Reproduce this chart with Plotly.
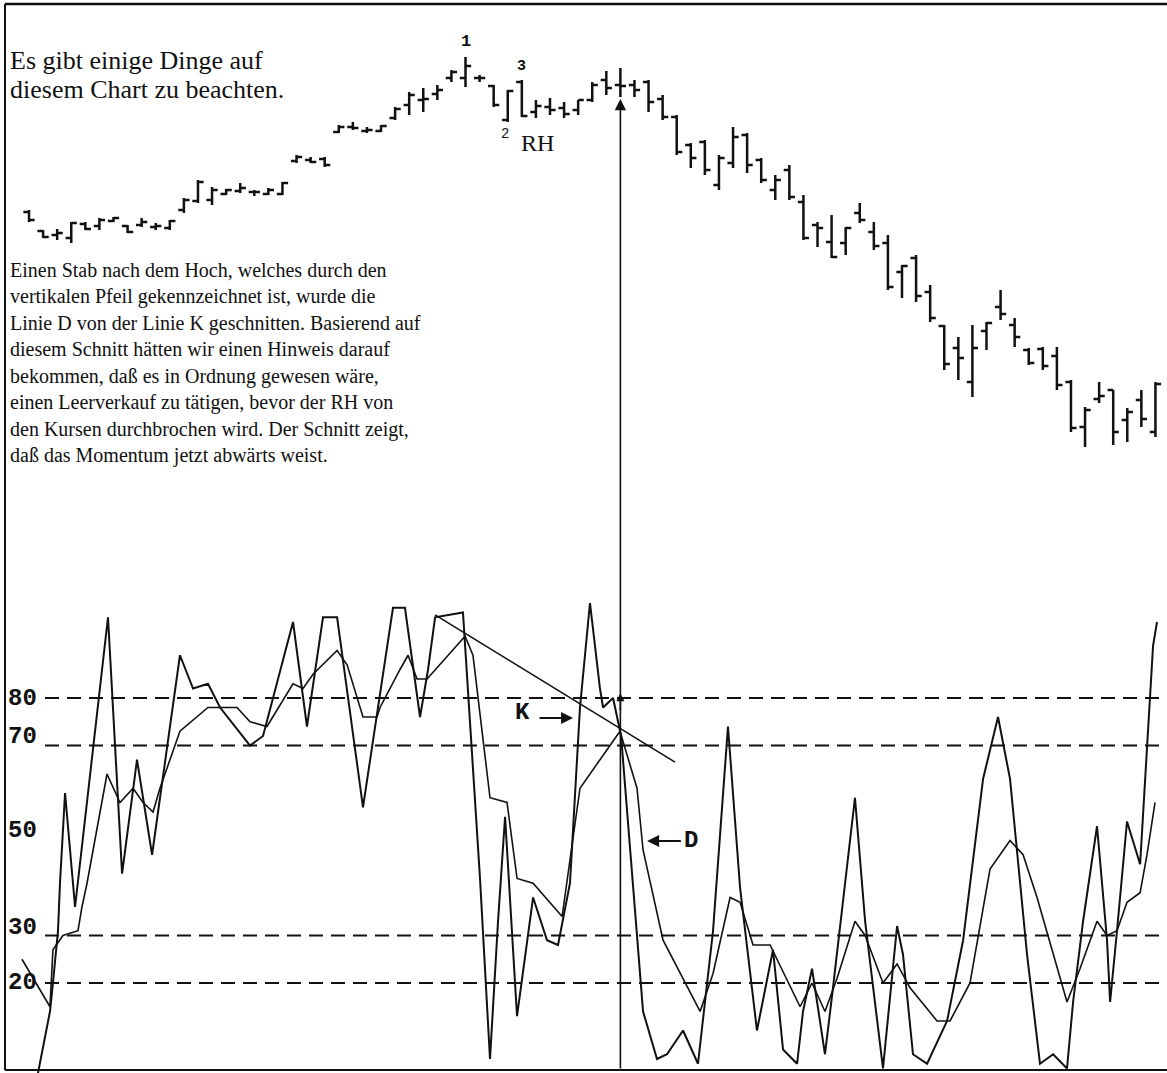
import plotly.graph_objects as go

# ---------------- data ----------------
bar_index = list(range(81))
bar_high = [290, 270, 271, 278, 278, 282, 283, 275, 282, 277, 280, 302, 320, 313, 311, 317, 310, 312, 318, 345,
            343, 343, 375, 378, 373, 375, 393, 408, 412, 415, 430, 443, 425, 415, 410, 420, 400, 402, 398, 400,
            418, 429, 432, 420, 420, 405, 385, 357, 360, 345, 373, 367, 342, 325, 335, 305, 278, 285, 273, 297,
            278, 265, 235, 245, 215, 175, 163, 175, 178, 210, 182, 152, 153, 153, 120, 93, 118, 110, 92, 110, 118]
bar_low = [278, 262, 260, 257, 270, 270, 278, 267, 273, 270, 270, 287, 297, 295, 305, 307, 304, 305, 305, 337,
           337, 333, 367, 370, 367, 368, 380, 385, 388, 400, 418, 413, 418, 393, 378, 383, 382, 385, 382, 385,
           398, 405, 403, 403, 388, 380, 345, 332, 325, 310, 332, 327, 317, 300, 300, 260, 253, 242, 245, 277,
           250, 210, 202, 198, 178, 130, 120, 103, 150, 180, 153, 135, 130, 110, 68, 53, 97, 55, 58, 73, 63]
bar_open = [288, 269, 265, 262, 276, 274, 279, 274, 275, 273, 272, 290, 299, 300, 306, 309, 308, 306, 306, 339,
            340, 341, 368, 373, 369, 369, 382, 395, 400, 406, 422, 422, 422, 414, 380, 418, 388, 393, 392, 390,
            400, 420, 415, 415, 418, 401, 383, 355, 358, 315, 337, 365, 340, 310, 330, 298, 275, 258, 257, 287,
            268, 257, 228, 242, 208, 174, 152, 118, 169, 193, 175, 150, 151, 144, 118, 73, 101, 110, 80, 100, 68]
bar_close = [280, 263, 267, 277, 271, 280, 282, 268, 278, 274, 279, 300, 318, 310, 310, 312, 308, 310, 317, 343,
             338, 335, 373, 372, 370, 374, 391, 405, 401, 410, 428, 434, 422, 395, 409, 384, 394, 390, 386, 400,
             415, 412, 414, 410, 398, 383, 348, 342, 330, 342, 363, 335, 320, 320, 303, 262, 272, 243, 272, 280,
             254, 213, 234, 204, 182, 136, 142, 152, 177, 186, 163, 137, 134, 115, 72, 90, 104, 68, 88, 81, 116]

# stochastic %K (fast line): bar position, value
k_day = [0.57, 1.49, 1.70, 2.06, 2.20, 2.56, 3.27, 5.61, 6.61, 7.67, 8.74, 10.72, 11.65, 12.71, 13.57, 15.70,
         16.62, 18.75, 19.74, 20.88, 21.88, 23.72, 25.85, 26.70, 27.77, 28.34, 28.84, 30.82, 32.03, 32.74,
         33.31, 33.81, 34.66, 35.80, 36.79, 37.57, 38.42, 39.13, 39.84, 40.55, 40.77, 41.48, 42.05, 42.69,
         43.61, 44.60, 45.31, 46.45, 47.51, 48.58, 49.64, 50.50, 51.70, 52.84, 53.55, 54.55, 54.97, 55.61,
         56.53, 57.10, 57.74, 58.66, 59.38, 60.65, 61.65, 62.07, 62.78, 63.78, 65.20, 66.34, 67.76, 68.82,
         69.67, 70.88, 71.80, 72.73, 73.72, 74.15, 74.86, 75.85, 76.56, 76.78, 77.27, 77.98, 78.91, 79.83, 80.11]
k_val = [0, 14, 20, 31, 41, 60, 36, 97, 43, 67, 47, 89, 82, 83, 78, 70,
         72, 96, 74, 97, 97, 57, 99, 99, 76, 86, 97, 98, 42, 4,
         33, 55, 13, 38, 29, 28, 41, 78, 100, 82, 78, 80, 72, 48,
         14, 4, 5, 10, 3, 31, 74, 40, 10, 27, 6, 3, 14, 23,
         5, 19, 35, 59, 33, 2, 32, 26, 5, 3, 12, 29, 63, 76,
         63, 26, 3, 5, 2, 16, 33, 53, 29, 16, 31, 54, 45, 91, 96]

# stochastic %D (slow line)
d_day = [-0.50, 1.49, 1.70, 2.41, 3.48, 3.76, 4.12, 5.54, 6.46, 7.39, 8.10, 8.81, 9.30, 10.72, 12.71, 14.77,
         15.70, 16.90, 18.75, 19.46, 20.17, 21.88, 22.59, 23.72, 24.72, 24.93, 26.35, 26.92, 27.56, 28.27,
         30.97, 31.53, 32.74, 33.95, 34.66, 35.80, 37.86, 39.13, 41.97, 42.47, 43.18, 43.61, 45.03, 47.66,
         48.58, 49.79, 50.50, 51.42, 52.63, 54.76, 55.61, 56.53, 57.39, 58.66, 59.38, 60.65, 61.65, 62.57,
         64.49, 65.41, 66.83, 68.25, 69.67, 70.60, 71.59, 73.72, 74.64, 75.85, 76.56, 77.27, 77.98, 78.91,
         79.40, 79.97]
d_val = [25, 15, 27, 30, 31, 36, 41, 64, 58, 61, 58, 56, 61, 73, 78, 78,
         75, 74, 83, 82, 85, 90, 87, 76, 76, 78, 86, 89, 84, 84,
         93, 89, 59, 58, 42, 41, 34, 61, 73, 68, 61, 48, 29, 14,
         22, 38, 37, 28, 28, 15, 20, 14, 21, 33, 30, 20, 24, 19,
         12, 12, 20, 44, 50, 47, 38, 16, 23, 33, 30, 31, 37, 39,
         47, 58]

trend_day = [28.84, 45.88]
trend_val = [97.5, 66.5]

level_values = [80, 70, 30, 20]
label_values = [80, 70, 50, 30, 20]
label_texts = ["80", "70", "50", "30", "20"]

top_text = ["Es gibt einige Dinge auf", "diesem Chart zu beachten."]
para_text = [
    "Einen Stab nach dem Hoch, welches durch den",
    "vertikalen Pfeil gekennzeichnet ist, wurde die",
    "Linie D von der Linie K geschnitten. Basierend auf",
    "diesem Schnitt hätten wir einen Hinweis darauf",
    "bekommen, daß es in Ordnung gewesen wäre,",
    "einen Leerverkauf zu tätigen, bevor der RH von",
    "den Kursen durchbrochen wird. Der Schnitt zeigt,",
    "daß das Momentum jetzt abwärts weist.",
]

# ---------------- layout helpers ----------------
W, H = 1167, 1073
def px(x):
    return x / W
def py(y):
    return 1 - y / H

price_range = [-573, 500]
stoch_range = [1.05, 226.95]
x_range = [-2.06, 80.82]

INK = "#111111"
SERIF = "Liberation Serif, Times New Roman, serif"
MONO = "Liberation Mono, Courier New, monospace"

fig = go.Figure()

fig.add_trace(go.Ohlc(
    x=bar_index, open=bar_open, high=bar_high, low=bar_low, close=bar_close,
    increasing=dict(line=dict(color=INK, width=2.5)),
    decreasing=dict(line=dict(color=INK, width=2.5)),
    tickwidth=0.4, hoverinfo="skip", showlegend=False, yaxis="y",
))

fig.add_trace(go.Scatter(x=k_day, y=k_val, mode="lines", yaxis="y2",
                         line=dict(color=INK, width=2), showlegend=False, hoverinfo="skip"))
fig.add_trace(go.Scatter(x=d_day, y=d_val, mode="lines", yaxis="y2",
                         line=dict(color=INK, width=1.6), showlegend=False, hoverinfo="skip"))
fig.add_trace(go.Scatter(x=trend_day, y=trend_val, mode="lines", yaxis="y2",
                         line=dict(color=INK, width=1.6), showlegend=False, hoverinfo="skip"))

shapes = []
for lv in level_values:
    shapes.append(dict(type="line", xref="paper", yref="y2", x0=px(45), x1=1, y0=lv, y1=lv,
                       line=dict(color=INK, width=2.2, dash="14px,8px")))
# frame
shapes.append(dict(type="line", xref="paper", yref="paper", x0=px(5), x1=px(5), y0=py(1070), y1=py(4),
                   line=dict(color=INK, width=2)))
shapes.append(dict(type="line", xref="paper", yref="paper", x0=px(5), x1=1, y0=py(4), y1=py(4),
                   line=dict(color=INK, width=2.5)))
shapes.append(dict(type="line", xref="paper", yref="paper", x0=px(5), x1=1, y0=py(1070), y1=py(1070),
                   line=dict(color=INK, width=2)))

ann = []
label_shift = {80: 0, 70: 9, 50: 10, 30: 8, 20: 0}
for v, t in zip(label_values, label_texts):
    ann.append(dict(x=px(6), xref="paper", y=v, yref="y2", text="<b>%s</b>" % t, showarrow=False,
                    xanchor="left", yanchor="middle", yshift=label_shift[v],
                    font=dict(family=MONO, size=24, color=INK)))

for i, t in enumerate(top_text):
    ann.append(dict(x=px(8), xref="paper", y=py(60 + 30 * i), yref="paper", text=t, showarrow=False,
                    xanchor="left", yanchor="middle", font=dict(family=SERIF, size=26, color=INK)))
for i, t in enumerate(para_text):
    ann.append(dict(x=px(8), xref="paper", y=py(270 + 26.5 * i), yref="paper", text=t, showarrow=False,
                    xanchor="left", yanchor="middle", font=dict(family=SERIF, size=20, color=INK)))

# bar labels
ann.append(dict(x=31, y=bar_high[31], xref="x", yref="y", text="<b>1</b>", showarrow=False,
                yanchor="bottom", yshift=4, font=dict(family=MONO, size=17, color=INK)))
ann.append(dict(x=35, y=bar_high[35], xref="x", yref="y", text="<b>3</b>", showarrow=False,
                yanchor="bottom", yshift=3, font=dict(family=MONO, size=15, color=INK)))
ann.append(dict(x=34, y=bar_low[34], xref="x", yref="y", text="2", showarrow=False,
                yanchor="top", xshift=-3, yshift=-2, font=dict(family=MONO, size=14, color=INK)))
ann.append(dict(x=34.8, y=bar_low[34], xref="x", yref="y", text="RH", showarrow=False,
                xanchor="left", yanchor="top", yshift=-6, font=dict(family=SERIF, size=24, color=INK)))

# vertical arrow marking the high
ann.append(dict(x=42, y=bar_low[42] - 2, xref="x", yref="y", ax=42, ay=price_range[0] + 3,
                axref="x", ayref="y", text="", showarrow=True, arrowhead=2, arrowsize=1.4,
                arrowwidth=1.6, arrowcolor=INK))
ann.append(dict(x=42, y=81, xref="x", yref="y2", ax=42, ay=77, axref="x", ayref="y2", text="",
                showarrow=True, arrowhead=2, arrowsize=1.0, arrowwidth=1.6, arrowcolor=INK))

# K and D markers
ann.append(dict(x=35.05, y=77.0, xref="x", yref="y2", text="<b>K</b>", showarrow=False,
                font=dict(family=MONO, size=24, color=INK)))
ann.append(dict(x=38.64, y=75.8, xref="x", yref="y2", ax=36.15, ay=75.8, axref="x", ayref="y2", text="",
                showarrow=True, arrowhead=2, arrowsize=1.2, arrowwidth=2, arrowcolor=INK))
ann.append(dict(x=47.0, y=50.1, xref="x", yref="y2", text="<b>D</b>", showarrow=False,
                font=dict(family=MONO, size=24, color=INK)))
ann.append(dict(x=43.9, y=49.9, xref="x", yref="y2", ax=46.4, ay=49.9, axref="x", ayref="y2", text="",
                showarrow=True, arrowhead=2, arrowsize=1.2, arrowwidth=2, arrowcolor=INK))

fig.update_layout(
    width=W, height=H, margin=dict(l=0, r=0, t=0, b=0),
    paper_bgcolor="white", plot_bgcolor="white", showlegend=False,
    xaxis=dict(range=x_range, visible=False, rangeslider=dict(visible=False), fixedrange=True),
    yaxis=dict(range=price_range, visible=False, fixedrange=True),
    yaxis2=dict(range=stoch_range, visible=False, overlaying="y", fixedrange=True),
    shapes=shapes, annotations=ann,
)

fig.write_html("out.html", config={"displayModeBar": False},
               post_script="document.body.style.margin='0px'; document.body.style.overflow='hidden';")
